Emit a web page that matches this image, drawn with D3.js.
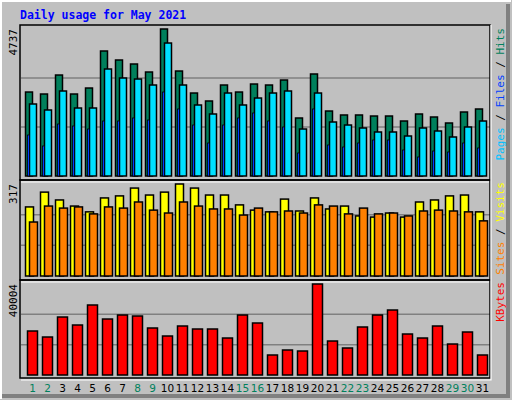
<!DOCTYPE html>
<html><head><meta charset="utf-8">
<script src="https://cdn.jsdelivr.net/npm/d3@7"></script>
<style>body{margin:0;background:#fff}</style></head>
<body><svg id="c" width="512" height="400"></svg>
<script>
const days = d3.range(1,32);
const weekend = [1,2,8,9,15,16,22,23,29,30];
const hits = [2706,2642,3254,2642,2835,4028,3738,3609,3351,4737,3383,2674,2417,2932,2706,2964,2932,3093,1869,3287,2094,1966,1966,1933,1933,1772,1998,1901,1708,2062,2159];
const files = [2320,2127,2739,2191,2191,3448,3158,3125,2932,4285,2932,2288,1998,2674,2288,2513,2674,2739,1514,2674,1740,1643,1547,1418,1418,1289,1547,1450,1257,1579,1772];
const pages = [1321,967,1675,1611,1514,1772,1772,1869,1804,2706,2159,1643,1063,1643,1869,2030,1772,1579,741,2159,999,934,1063,1160,1160,838,612,805,773,1063,902];
const visits = [238,289,262,241,221,269,276,303,279,289,317,303,279,279,245,227,221,265,224,269,231,241,207,203,217,203,255,262,276,279,221];
const sites = [186,241,234,238,214,238,234,255,227,217,255,241,231,231,210,234,221,224,217,245,241,214,234,214,217,207,224,227,224,221,190];
const kbytes = [19340,16700,25490,21980,30770,24610,26370,25930,20660,17140,21540,20220,20220,16260,26370,22860,8790,10990,10550,40004,14940,11870,21100,26370,28570,18020,16260,21540,13620,18900,8790];

const svg = d3.select("#c");
svg.append("rect").attr("width",512).attr("height",400).attr("fill","#c0c0c0");
svg.append("path").attr("d","M1,399V1H511").attr("stroke","#fff").attr("stroke-width",2).attr("fill","none");
svg.append("path").attr("d","M2,396H508V4").attr("stroke","#808080").attr("stroke-width",4).attr("fill","none");
svg.append("text").attr("x",20).attr("y",19).text("Daily usage for May 2021")
  .attr("fill","#0000ff").attr("font-family","DejaVu Sans Mono").attr("font-weight","bold").attr("font-size",11.5);

const x = d3.scaleBand().domain(days).range([23,488]).paddingInner(0).paddingOuter(0);
const mono = "DejaVu Sans Mono";

function panel(top, base, max, ticksFrac){
  const y = d3.scaleLinear().domain([0,max]).range([base, top]);
  ticksFrac.forEach(f=>svg.append("line").attr("x1",21).attr("x2",490)
     .attr("y1",y(max*f)).attr("y2",y(max*f)).attr("stroke","#808080").attr("stroke-width",1.5));
  return y;
}
function bars(data, y, off, w, color, sw){
  svg.append("g").selectAll("rect").data(data).join("rect")
    .attr("x",(d,i)=>x(days[i])+off).attr("width",w)
    .attr("y",d=>y(d)).attr("height",d=>y(0)-y(d))
    .attr("fill",color).attr("stroke","#000").attr("stroke-width",sw);
}
// panel 1
const y1 = panel(29,176,4737,[1/3,2/3]);
bars(hits,y1,2.5,7,"#00805c",1.5);
bars(files,y1,6.5,7,"#00e0ff",1.5);
bars(pages,y1,4.5,2,"#0040ff",0.8);
// panel 2
const y2 = panel(184,276,317,[1/3,2/3]);
bars(visits,y2,2.5,8,"#ffff00",1.5);
bars(sites,y2,6.5,8,"#ff8000",1.5);
// panel 3
const y3 = panel(284,375,40004,[1/3,2/3]);
bars(kbytes,y3,4.5,10,"#ff0000",1.5);

// frames
[[25,180],[180,280],[280,378]].forEach(([a,b])=>{
  svg.append("rect").attr("x",20).attr("y",a).attr("width",470).attr("height",b-a)
    .attr("fill","none").attr("stroke","#000").attr("stroke-width",1.5);
});
svg.append("path").attr("d","M21,182H489M21,282H489M21,380H491V25").attr("stroke","#fff").attr("stroke-width",1.2).attr("fill","none");

// y labels
[["4737",29],["317",184],["40004",284]].forEach(([t,yy])=>{
  svg.append("text").attr("transform",`translate(17,${yy}) rotate(-90)`).attr("text-anchor","end")
    .attr("font-family",mono).attr("font-size",11).attr("fill","#000").text(t);
});
// right legends
function legend(yy, parts){
  const t = svg.append("text").attr("transform",`translate(504,${yy}) rotate(-90)`).attr("text-anchor","end")
    .attr("font-family",mono).attr("font-size",11);
  parts.forEach(([s,c])=>t.append("tspan").attr("fill",c).text(s));
}
legend(28,[["Pages","#00c0ff"],[" / ","#000"],["Files","#0040ff"],[" / ","#000"],["Hits","#00805c"]]);
legend(182,[["Sites","#ff8000"],[" / ","#000"],["Visits","#ffff00"]]);
legend(282,[["KBytes","#ff0000"]]);

// day labels
svg.append("g").selectAll("text").data(days).join("text")
  .attr("x",d=>x(d)+x.bandwidth()/2+2).attr("y",392).attr("text-anchor","middle")
  .attr("font-family","DejaVu Sans").attr("font-size",10.5)
  .attr("fill",d=>weekend.includes(d)?"#00805c":"#000").text(d=>d);
</script></body></html>
